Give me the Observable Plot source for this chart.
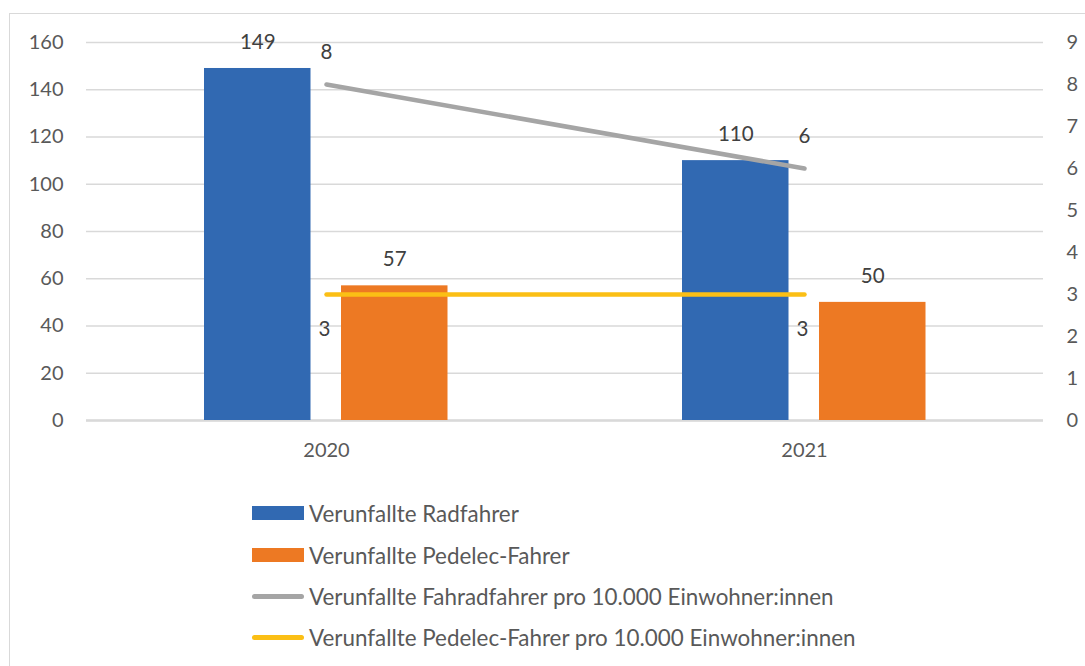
<!DOCTYPE html>
<html>
<head>
<meta charset="utf-8">
<script src="https://cdn.jsdelivr.net/npm/d3@7"></script>
<script src="https://cdn.jsdelivr.net/npm/@observablehq/plot@0.6"></script>
<style>
  html, body { margin: 0; padding: 0; background: #fff; overflow: hidden; }
  #page { position: relative; width: 1085px; height: 666px; overflow: hidden; font-family: Lato, "Noto Sans", sans-serif; }
  #frame { position: absolute; left: 9px; top: 13px; width: 1200px; height: 800px; border: 1.5px solid #d9d9d9; box-sizing: border-box; }
  #chart { position: absolute; left: 0; top: 0; }
  #legend { position: absolute; left: 252px; top: 0; }
  .row { position: absolute; left: 0; display: flex; align-items: center; white-space: nowrap; color: #595959; font-size: 22.4px; height: 30px; }
  .sw { width: 52px; margin-right: 5px; flex: none; }
</style>
</head>
<body>
<div id="page">
  <div id="frame"></div>
  <div id="chart"></div>
  <div id="legend"></div>
</div>
<script>
const years = ["2020", "2021"];
const radfahrer = [149, 110];
const pedelec = [57, 50];
const radRate = [8, 6];
const pedRate = [3, 3];
const leftTicks = [0, 20, 40, 60, 80, 100, 120, 140, 160];
const rightTicks = [0, 1, 2, 3, 4, 5, 6, 7, 8, 9];
const seriesNames = [
  "Verunfallte Radfahrer",
  "Verunfallte Pedelec-Fahrer",
  "Verunfallte Fahradfahrer pro 10.000 Einwohner:innen",
  "Verunfallte Pedelec-Fahrer pro 10.000 Einwohner:innen"
];
const colors = ["#3169B2", "#ED7923", "#A5A5A5", "#FBBF15"];

const leftMax = 160, rightMax = 9;
const k = leftMax / rightMax;

const rows = years.map((y, i) => ({
  year: y, rad: radfahrer[i], ped: pedelec[i], radRate: radRate[i], pedRate: pedRate[i]
}));

const labelColor = "#404040";
const tickColor = "#595959";
const tickSize = 20;
const labelSize = 20.5;

const chart = Plot.plot({
  width: 1085,
  height: 480,
  marginTop: 42,
  marginBottom: 60,
  marginLeft: 86,
  marginRight: 42,
  style: { fontFamily: "Lato, 'Noto Sans', sans-serif", fontSize: "20px", background: "transparent", overflow: "visible" },
  x: { type: "band", domain: years, padding: 0, label: null },
  y: { domain: [0, leftMax], label: null },
  marks: [
    Plot.gridY(leftTicks, { stroke: "#d9d9d9", strokeOpacity: 1, strokeWidth: 1.3 }),
    Plot.ruleY([0], { stroke: "#d9d9d9", strokeWidth: 2.5 }),
    Plot.axisY(leftTicks, { anchor: "left", tickSize: 0, tickPadding: 23, fill: tickColor, fontSize: tickSize, label: null }),
    Plot.axisY(rightTicks.map(v => v * k), {
      anchor: "right", tickSize: 0, tickPadding: 23, fill: tickColor, fontSize: tickSize, label: null,
      tickFormat: d => String(Math.round(d / k))
    }),
    Plot.axisX(years, { anchor: "bottom", tickSize: 0, tickPadding: 22, fill: tickColor, fontSize: tickSize, label: null }),
    Plot.barY(rows, { x: "year", y: "rad", fill: colors[0], insetLeft: 117, insetRight: 254.5 }),
    Plot.barY(rows, { x: "year", y: "ped", fill: colors[1], insetLeft: 254, insetRight: 117.5 }),
    Plot.line(rows, { x: "year", y: d => d.radRate * k, stroke: colors[2], strokeWidth: 4.5, strokeLinecap: "round" }),
    Plot.line(rows, { x: "year", y: d => d.pedRate * k, stroke: colors[3], strokeWidth: 4.5, strokeLinecap: "round" }),
    Plot.text(rows, { x: "year", y: "rad", text: d => String(d.rad), dx: -68.75, dy: -26, fill: labelColor, fontSize: labelSize }),
    Plot.text(rows, { x: "year", y: "ped", text: d => String(d.ped), dx: 68.25, dy: -26, fill: labelColor, fontSize: labelSize }),
    Plot.text(rows, { x: "year", y: d => d.radRate * k, text: d => String(d.radRate), dy: -32, fill: labelColor, fontSize: labelSize }),
    Plot.text(rows, { x: "year", y: d => d.pedRate * k, text: d => String(d.pedRate), dx: -2, dy: 35, fill: labelColor, fontSize: labelSize })
  ]
});
document.getElementById("chart").appendChild(chart);

const legendCenters = [513, 555, 596, 637];
const legend = document.getElementById("legend");
seriesNames.forEach((name, i) => {
  const row = document.createElement("div");
  row.className = "row";
  row.style.top = (legendCenters[i] - 15) + "px";
  const sw = document.createElement("div");
  sw.className = "sw";
  sw.style.background = colors[i];
  if (i < 2) { sw.style.height = "14px"; }
  else { sw.style.height = "5px"; sw.style.borderRadius = "3px"; }
  const t = document.createElement("span");
  t.textContent = name;
  row.appendChild(sw);
  row.appendChild(t);
  legend.appendChild(row);
});
</script>
</body>
</html>
